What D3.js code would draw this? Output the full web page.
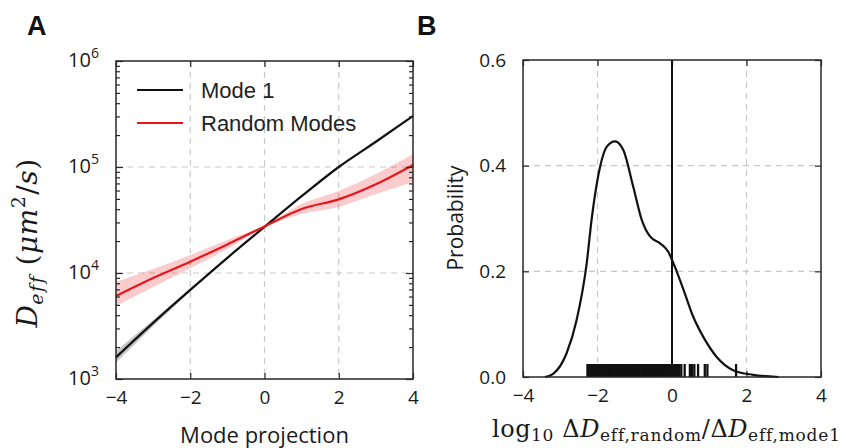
<!DOCTYPE html>
<html>
<head>
<meta charset="utf-8">
<script src="https://cdn.jsdelivr.net/npm/d3@7"></script>
<style>
  body { margin: 0; background: #fff; }
  svg { display: block; }
</style>
</head>
<body>
<div id="chart"></div>
<script>
// panel A data: effective diffusion vs mode projection
var modeProj = [-4, -3, -2, -1, 0, 1, 2, 3, 4];
var mode1 = [1600, 3380, 6920, 13900, 27200, 53000, 100000, 173000, 303000];
var mode1Lo = [1420, 3150, 6700, 13650, 27000, 52700, 99500, 172000, 301000];
var mode1Hi = [1840, 3600, 7150, 14150, 27400, 53300, 100500, 174000, 305000];
var randomModes = [6070, 8980, 12800, 18600, 27500, 40200, 49500, 68700, 104500];
var randomLo = [4890, 7380, 11100, 16800, 27000, 36000, 42000, 55600, 72100];
var randomHi = [8220, 10900, 14800, 20500, 28000, 44800, 59400, 85900, 132700];

// panel B data: KDE of log ratio + rug
var kdeX = [-3.41, -3.19, -2.83, -2.56, -2.29, -2.16, -1.93, -1.75, -1.53, -1.31, -1.04, -0.81,
  -0.59, -0.32, -0.10, 0.04, 0.31, 0.57, 0.84, 1.20, 1.64, 2.18, 2.86];
var kdeY = [0, 0.006, 0.045, 0.108, 0.215, 0.297, 0.398, 0.436, 0.446, 0.43, 0.36, 0.297,
  0.266, 0.253, 0.237, 0.215, 0.165, 0.114, 0.076, 0.038, 0.013, 0.004, 0];
var rug = [-2.27, -2.24, -2.21, -2.18, -2.15, -2.11, -2.08, -2.05, -2.01, -1.98, -1.95, -1.91,
  -1.88, -1.85, -1.82, -1.78, -1.74, -1.71, -1.67, -1.64, -1.61, -1.57, -1.54, -1.50, -1.47,
  -1.44, -1.40, -1.37, -1.34, -1.30, -1.27, -1.23, -1.20, -1.16, -1.12, -1.09, -1.06, -1.02,
  -0.98, -0.95, -0.92, -0.88, -0.85, -0.80, -0.76, -0.72, -0.69, -0.65, -0.62, -0.58, -0.55,
  -0.51, -0.48, -0.44, -0.40, -0.35, -0.31, -0.27, -0.24, -0.20, -0.16, -0.13, -0.09, -0.05,
  -0.02, 0.02, 0.05, 0.09, 0.13, 0.17, 0.20, 0.25, 0.34, 0.48, 0.54, 0.60, 0.70, 0.88, 0.95, 1.72];

var xTicks = [-4, -2, 0, 2, 4];
var yTicksA = [1e3, 1e4, 1e5, 1e6];
var yExpA = ['3', '4', '5', '6'];
var yTicksB = [0, 0.2, 0.4, 0.6];
var legendNames = ['Mode 1', 'Random Modes'];

var W = 852, H = 448;
var tickFont = '"Open Sans", sans-serif';
var mathFont = '"DejaVu Serif", serif';
var spine = '#262626';
var gridCol = '#c8c8c8';

var svg = d3.select('#chart').append('svg')
  .attr('width', W).attr('height', H);

// helper for latex-ish text
function mathText(sel, parts, size, subSize, shiftSub, subSpacing) {
  var shift = 0;
  parts.forEach(function(p) {
    var target = p.sub ? shiftSub : p.sup ? -size * 0.42 : 0;
    sel.append('tspan')
      .attr('dy', target - shift)
      .style('font-size', (p.sub || p.sup) ? subSize + 'px' : size + 'px')
      .style('font-style', p.it ? 'italic' : 'normal')
      .style('letter-spacing', (p.sub || p.sup) ? subSpacing + 'px' : '0.5px')
      .text(p.t);
    shift = target;
  });
}

function styleAxis(g) {
  g.select('.domain').remove();
  g.selectAll('.tick line').attr('stroke', spine).attr('stroke-width', 1.2);
  g.selectAll('.tick text')
    .style('font-family', tickFont).style('font-size', '19px').attr('fill', '#1a1a1a');
}

// ---------------- panel A ----------------
var A = { l: 116, r: 413, t: 61, b: 379 };
var xA = d3.scaleLinear().domain([-4, 4]).range([A.l, A.r]);
var yA = d3.scaleLog().domain([1e3, 1e6]).range([A.b, A.t]);

var gA = svg.append('g');

// grid
gA.selectAll('line.gx').data(xTicks.slice(1, -1)).enter().append('line')
  .attr('x1', function(d) { return xA(d); }).attr('x2', function(d) { return xA(d); })
  .attr('y1', A.t).attr('y2', A.b)
  .attr('stroke', gridCol).attr('stroke-dasharray', '6,5').attr('stroke-width', 1.2);
gA.selectAll('line.gy').data(yTicksA.slice(1, -1)).enter().append('line')
  .attr('y1', function(d) { return yA(d); }).attr('y2', function(d) { return yA(d); })
  .attr('x1', A.l).attr('x2', A.r)
  .attr('stroke', gridCol).attr('stroke-dasharray', '6,5').attr('stroke-width', 1.2);

// bands
var areaA = function(lo, hi) {
  return d3.area()
    .x(function(d, i) { return xA(modeProj[i]); })
    .y0(function(d, i) { return yA(lo[i]); })
    .y1(function(d, i) { return yA(hi[i]); })
    .curve(d3.curveMonotoneX)(modeProj);
};
gA.append('path').attr('d', areaA(mode1Lo, mode1Hi)).attr('fill', '#000').attr('fill-opacity', 0.22);
gA.append('path').attr('d', areaA(randomLo, randomHi)).attr('fill', '#e8161b').attr('fill-opacity', 0.22);

var lineA = function(vals) {
  return d3.line()
    .x(function(d, i) { return xA(modeProj[i]); })
    .y(function(d) { return yA(d); })
    .curve(d3.curveMonotoneX)(vals);
};
gA.append('path').attr('d', lineA(mode1)).attr('fill', 'none').attr('stroke', '#111').attr('stroke-width', 2.2);
gA.append('path').attr('d', lineA(randomModes)).attr('fill', 'none').attr('stroke', '#e8161b').attr('stroke-width', 2.2);

// axes
var minorA = yA.ticks();
function isMajor(d) { return Math.abs(Math.log10(d) - Math.round(Math.log10(d))) < 1e-9; }

gA.append('g').attr('transform', 'translate(0,' + A.b + ')')
  .call(d3.axisBottom(xA).tickValues(xTicks).tickSizeInner(-6).tickSizeOuter(0).tickPadding(12))
  .call(styleAxis);
gA.append('g').attr('transform', 'translate(0,' + A.t + ')')
  .call(d3.axisTop(xA).tickValues(xTicks).tickSizeInner(-6).tickSizeOuter(0).tickFormat(''))
  .call(styleAxis);
gA.append('g').attr('transform', 'translate(' + A.l + ',0)')
  .call(d3.axisLeft(yA).tickValues(minorA).tickSizeOuter(0).tickFormat(''))
  .call(styleAxis)
  .selectAll('.tick line').attr('x2', function(d) { return isMajor(d) ? 7 : 4; });
gA.append('g').attr('transform', 'translate(' + A.r + ',0)')
  .call(d3.axisRight(yA).tickValues(minorA).tickSizeOuter(0).tickFormat(''))
  .call(styleAxis)
  .selectAll('.tick line').attr('x2', function(d) { return isMajor(d) ? -7 : -4; });

// y tick labels 10^n
var labA = gA.selectAll('text.ylab').data(yTicksA).enter().append('text')
  .attr('x', A.l - 17).attr('y', function(d) { return yA(d) + 6; })
  .attr('text-anchor', 'end')
  .style('font-family', tickFont).style('font-size', '20px').attr('fill', '#1a1a1a');
labA.append('tspan').text('10');
labA.append('tspan').attr('dy', -9).style('font-size', '14px').text(function(d, i) { return yExpA[i]; });

gA.append('rect').attr('x', A.l).attr('y', A.t).attr('width', A.r - A.l).attr('height', A.b - A.t)
  .attr('fill', 'none').attr('stroke', spine).attr('stroke-width', 1.5);

// legend
var legCols = ['#111', '#e8161b'];
legendNames.forEach(function(n, i) {
  var ly = 90 + i * 33;
  gA.append('line').attr('x1', 137).attr('x2', 183).attr('y1', ly).attr('y2', ly)
    .attr('stroke', legCols[i]).attr('stroke-width', 2.2);
  gA.append('text').attr('x', 201).attr('y', ly + 8).text(n)
    .style('font-family', '"Liberation Sans", Arial, sans-serif').style('font-size', '22px').attr('fill', '#222');
});

gA.append('text').attr('x', A.l + (A.r - A.l) / 2).attr('y', 443).attr('text-anchor', 'middle')
  .style('font-family', tickFont).style('font-size', '22px').attr('fill', '#1a1a1a')
  .text('Mode projection');

var ylabA = gA.append('text').attr('transform', 'translate(37,243) rotate(-90)')
  .attr('text-anchor', 'middle')
  .style('font-family', mathFont).attr('fill', '#1a1a1a');
mathText(ylabA, [
  { t: 'D', it: true }, { t: 'eff', it: true, sub: true }, { t: ' (' },
  { t: 'μm', it: true }, { t: '2', sup: true }, { t: '/' }, { t: 's', it: true }, { t: ')' }
], 28, 19, 6, 1.5);

svg.append('text').attr('x', 27).attr('y', 35).text('A')
  .style('font-family', '"Liberation Sans", Arial, sans-serif').style('font-weight', 'bold')
  .style('font-size', '27px').attr('fill', '#111');

// ---------------- panel B ----------------
var B = { l: 523, r: 821, t: 60, b: 377 };
var xB = d3.scaleLinear().domain([-4, 4]).range([B.l, B.r]);
var yB = d3.scaleLinear().domain([0, 0.6]).range([B.b, B.t]);
var gB = svg.append('g');

gB.selectAll('line.gx').data([-2, 2]).enter().append('line')
  .attr('x1', function(d) { return xB(d); }).attr('x2', function(d) { return xB(d); })
  .attr('y1', B.t).attr('y2', B.b)
  .attr('stroke', gridCol).attr('stroke-dasharray', '6,5').attr('stroke-width', 1.2);
gB.selectAll('line.gy').data(yTicksB.slice(1, -1)).enter().append('line')
  .attr('y1', function(d) { return yB(d); }).attr('y2', function(d) { return yB(d); })
  .attr('x1', B.l).attr('x2', B.r)
  .attr('stroke', gridCol).attr('stroke-dasharray', '6,5').attr('stroke-width', 1.2);

gB.append('g').attr('transform', 'translate(0,' + B.b + ')')
  .call(d3.axisBottom(xB).tickValues(xTicks).tickSizeInner(-6).tickSizeOuter(0).tickPadding(12))
  .call(styleAxis);
gB.append('g').attr('transform', 'translate(0,' + B.t + ')')
  .call(d3.axisTop(xB).tickValues(xTicks).tickSizeInner(-6).tickSizeOuter(0).tickFormat(''))
  .call(styleAxis);
gB.append('g').attr('transform', 'translate(' + B.l + ',0)')
  .call(d3.axisLeft(yB).tickValues(yTicksB).tickSizeInner(-6).tickSizeOuter(0).tickPadding(17)
    .tickFormat(d3.format('.1f')))
  .call(styleAxis);
gB.append('g').attr('transform', 'translate(' + B.r + ',0)')
  .call(d3.axisRight(yB).tickValues(yTicksB).tickSizeInner(-6).tickSizeOuter(0).tickFormat(''))
  .call(styleAxis);

// rug
gB.selectAll('line.rug').data(rug).enter().append('line')
  .attr('x1', function(d) { return xB(d); }).attr('x2', function(d) { return xB(d); })
  .attr('y1', B.b).attr('y2', B.b - 13)
  .attr('stroke', '#111').attr('stroke-width', 2.3);

gB.append('path')
  .attr('d', d3.line()
    .x(function(d, i) { return xB(kdeX[i]); })
    .y(function(d) { return yB(d); })
    .curve(d3.curveMonotoneX)(kdeY))
  .attr('fill', 'none').attr('stroke', '#111').attr('stroke-width', 2.2);

gB.append('line').attr('x1', xB(0)).attr('x2', xB(0)).attr('y1', B.t).attr('y2', B.b)
  .attr('stroke', '#111').attr('stroke-width', 2);

gB.append('rect').attr('x', B.l).attr('y', B.t).attr('width', B.r - B.l).attr('height', B.b - B.t)
  .attr('fill', 'none').attr('stroke', spine).attr('stroke-width', 1.5);

gB.append('text').attr('transform', 'translate(463,218) rotate(-90)').attr('text-anchor', 'middle')
  .style('font-family', tickFont).style('font-size', '21px').attr('fill', '#1a1a1a')
  .text('Probability');

var xlabB = gB.append('text').attr('x', 492).attr('y', 437).attr('text-anchor', 'start')
  .style('font-family', mathFont).attr('fill', '#1a1a1a');
mathText(xlabB, [
  { t: 'log' }, { t: '10', sub: true }, { t: ' Δ' }, { t: 'D', it: true },
  { t: 'eff,random', sub: true }, { t: '/Δ' }, { t: 'D', it: true }, { t: 'eff,mode1', sub: true }
], 24, 17, 4, 0.8);

svg.append('text').attr('x', 417).attr('y', 35).text('B')
  .style('font-family', '"Liberation Sans", Arial, sans-serif').style('font-weight', 'bold')
  .style('font-size', '27px').attr('fill', '#111');
</script>
</body>
</html>
